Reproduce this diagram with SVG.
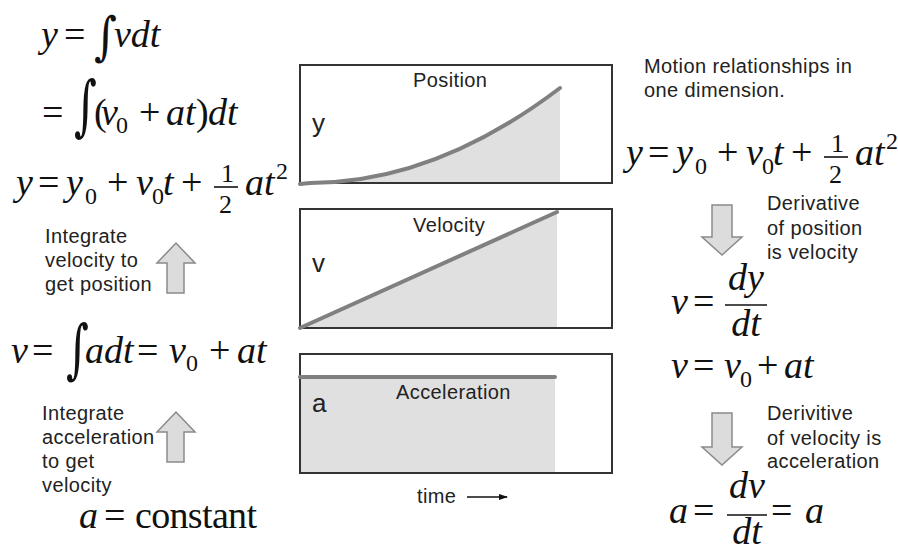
<svg xmlns="http://www.w3.org/2000/svg" width="898" height="552" viewBox="0 0 898 552">
<style>
.m{font-family:"Liberation Serif","Times New Roman",serif;font-size:38px;fill:#111}
.i{font-style:italic}
.s{font-size:24px}
.f{font-size:26px}
.int{font-family:"DejaVu Serif",serif;font-size:44px;font-style:normal;fill:#111}
.t{font-family:"Liberation Sans",Arial,sans-serif;font-size:20px;letter-spacing:0.4px;fill:#222}
.lbl{font-family:"Liberation Sans",Arial,sans-serif;font-size:26px;fill:#222}
.box{fill:none;stroke:#333;stroke-width:2}
.shade{fill:#e0e0e0}
.curve{fill:none;stroke:#808080;stroke-width:4;stroke-linecap:round}
.bar{stroke:#111;stroke-width:1.6}
.blk{fill:#dcdcdc;stroke:#8a8a8a;stroke-width:1.5;stroke-linejoin:miter}
</style>
<defs>
<marker id="ah" markerWidth="9" markerHeight="6" refX="8" refY="3" orient="auto" markerUnits="userSpaceOnUse">
<path d="M0,0 L9,3 L0,6 Z" fill="#111"/>
</marker>
</defs>
<rect width="898" height="552" fill="#fff"/>

<g id="position-graph">
<path class="shade" d="M300,183 L310,183 Q435,183 560,88 L560,183 Z"/>
<rect class="box" x="300" y="65" width="312" height="118"/>
<path class="curve" d="M300,184 L310,183 Q435,183 560,88"/>
<text class="t" x="413" y="87">Position</text>
<text class="lbl" x="312" y="132">y</text>
</g>

<g id="velocity-graph">
<polygon class="shade" points="300,328 557,212 557,328"/>
<rect class="box" x="300" y="209" width="312" height="119"/>
<path class="curve" d="M300,328 L557,212"/>
<text class="t" x="413" y="232">Velocity</text>
<text class="lbl" x="312" y="272">v</text>
</g>

<g id="acceleration-graph">
<rect class="shade" x="300" y="377" width="255" height="96"/>
<rect class="box" x="300" y="354" width="312" height="119"/>
<path class="curve" d="M300,377 L555,377"/>
<text class="t" x="396" y="399">Acceleration</text>
<text class="lbl" x="312" y="412">a</text>
</g>

<g id="time-axis">
<text class="t" x="417" y="503">time</text>
<line x1="467" y1="497" x2="507" y2="497" stroke="#111" stroke-width="1.5" marker-end="url(#ah)"/>
</g>

<g id="eq-y-int-v">
<text class="m"><tspan class="i" x="41" y="47">y</tspan><tspan x="64" y="47">=</tspan><tspan class="i" x="114" y="47">vdt</tspan></text>
<text class="int" transform="translate(94,54) scale(1,1.18)">∫</text>
</g>

<g id="eq-int-v0-at">
<text class="m"><tspan x="42" y="125">=</tspan><tspan x="94" y="125">(</tspan><tspan class="i" x="101" y="125">v</tspan><tspan class="s" x="116" y="133">0</tspan><tspan x="139" y="125">+</tspan><tspan class="i" x="166" y="125">at</tspan><tspan x="196" y="125">)</tspan><tspan class="i" x="208" y="125">dt</tspan></text>
<text class="int" transform="translate(74,128) scale(1,1.5)">∫</text>
</g>

<g id="eq-y-left">
<text class="m"><tspan class="i" x="16" y="195">y</tspan><tspan x="38" y="195">=</tspan><tspan class="i" x="66" y="195">y</tspan><tspan class="s" x="85" y="204">0</tspan><tspan x="107" y="195">+</tspan><tspan class="i" x="136" y="195">v</tspan><tspan class="s" x="152" y="204">0</tspan><tspan class="i" x="163" y="195">t</tspan><tspan x="181" y="195">+</tspan><tspan class="f" x="221" y="182">1</tspan><tspan class="f" x="219" y="213">2</tspan><tspan class="i" x="245" y="195">at</tspan><tspan class="s" x="276" y="179">2</tspan></text>
<line class="bar" x1="214" y1="187" x2="238" y2="187"/>
</g>

<g id="label-integrate-v">
<text class="t"><tspan x="45" y="243">Integrate</tspan><tspan x="45" y="267">velocity to</tspan><tspan x="45" y="291">get position</tspan></text>
</g>

<g id="eq-v-int-a">
<text class="m"><tspan class="i" x="11" y="363">v</tspan><tspan x="32" y="363">=</tspan><tspan class="i" x="85" y="363">adt</tspan><tspan x="137" y="363">=</tspan><tspan class="i" x="169" y="363">v</tspan><tspan class="s" x="186" y="371">0</tspan><tspan x="209" y="363">+</tspan><tspan class="i" x="237" y="363">at</tspan></text>
<text class="int" transform="translate(66,371) scale(1,1.47)">∫</text>
</g>

<g id="label-integrate-a">
<text class="t"><tspan x="42" y="420">Integrate</tspan><tspan x="42" y="444">acceleration</tspan><tspan x="42" y="468">to get</tspan><tspan x="42" y="492">velocity</tspan></text>
</g>

<g id="eq-a-const">
<text class="m"><tspan class="i" x="79" y="528">a</tspan><tspan x="104" y="528">=</tspan><tspan x="135" y="528" textLength="122">constant</tspan></text>
</g>

<g id="title">
<text class="t"><tspan x="644" y="73">Motion relationships in</tspan><tspan x="644" y="97">one dimension.</tspan></text>
</g>

<g id="eq-y-right">
<text class="m"><tspan class="i" x="626" y="165">y</tspan><tspan x="648" y="165">=</tspan><tspan class="i" x="676" y="165">y</tspan><tspan class="s" x="695" y="174">0</tspan><tspan x="717" y="165">+</tspan><tspan class="i" x="746" y="165">v</tspan><tspan class="s" x="762" y="174">0</tspan><tspan class="i" x="773" y="165">t</tspan><tspan x="791" y="165">+</tspan><tspan class="f" x="831" y="152">1</tspan><tspan class="f" x="829" y="183">2</tspan><tspan class="i" x="855" y="165">at</tspan><tspan class="s" x="886" y="149">2</tspan></text>
<line class="bar" x1="824" y1="157" x2="848" y2="157"/>
</g>

<g id="label-derivative-y">
<text class="t"><tspan x="767" y="210">Derivative</tspan><tspan x="767" y="235">of position</tspan><tspan x="767" y="259">is velocity</tspan></text>
</g>

<g id="eq-v-dydt">
<text class="m"><tspan class="i" x="671" y="314">v</tspan><tspan x="693" y="314">=</tspan></text>
<text class="m i" x="746" y="290" text-anchor="middle">dy</text>
<text class="m i" x="746" y="336" text-anchor="middle">dt</text>
<line class="bar" x1="725" y1="305" x2="767" y2="305"/>
</g>

<g id="eq-v-v0-at">
<text class="m"><tspan class="i" x="671" y="378">v</tspan><tspan x="693" y="378">=</tspan><tspan class="i" x="724" y="378">v</tspan><tspan class="s" x="740" y="387">0</tspan><tspan x="757" y="378">+</tspan><tspan class="i" x="784" y="378">at</tspan></text>
</g>

<g id="label-derivative-v">
<text class="t"><tspan x="767" y="420">Derivitive</tspan><tspan x="767" y="445">of velocity is</tspan><tspan x="767" y="468">acceleration</tspan></text>
</g>

<g id="eq-a-dvdt">
<text class="m"><tspan class="i" x="669" y="523">a</tspan><tspan x="693" y="523">=</tspan><tspan x="771" y="523">=</tspan><tspan class="i" x="805" y="523">a</tspan></text>
<text class="m i" x="747" y="498" text-anchor="middle">dv</text>
<text class="m i" x="747" y="544" text-anchor="middle">dt</text>
<line class="bar" x1="727" y1="515" x2="767" y2="515"/>
</g>

<g id="connectors">
<polygon class="blk" points="167,293 167,263 157,263 176,243 195,263 184,263 184,293"/>
<polygon class="blk" points="167,462 167,432 157,432 176,412 195,432 184,432 184,462"/>
<polygon class="blk" points="712,205 732,205 732,237 742,237 722,255 702,237 712,237"/>
<polygon class="blk" points="712,413 732,413 732,447 742,447 722,465 702,447 712,447"/>
</g>
</svg>
